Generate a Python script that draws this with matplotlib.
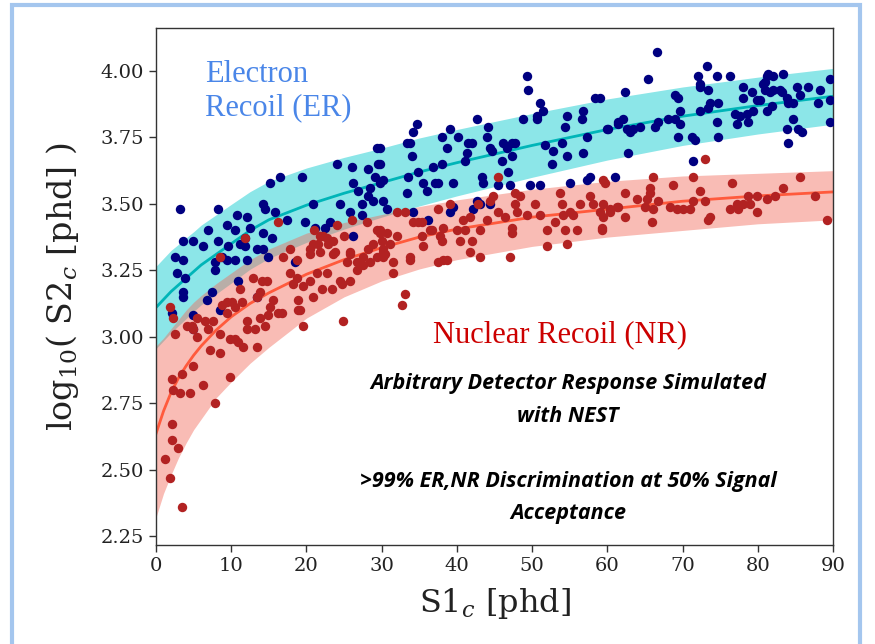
import matplotlib
matplotlib.use("Agg")
import matplotlib.pyplot as plt
from matplotlib.patches import Rectangle

# ---------------- data ----------------
band_x = [0, 1, 2, 3, 4, 5, 6, 8, 10, 12.5, 15, 20, 25, 30, 35, 40, 50, 60, 70, 80, 90]
er_center = [3.11, 3.14, 3.17, 3.195, 3.22, 3.245, 3.27, 3.31, 3.35, 3.40, 3.44, 3.495, 3.54, 3.58, 3.62, 3.655, 3.72, 3.78, 3.83, 3.87, 3.905]
er_low = [2.955, 2.985, 3.015, 3.042, 3.068, 3.095, 3.12, 3.161, 3.202, 3.254, 3.295, 3.355, 3.405, 3.45, 3.492, 3.53, 3.60, 3.665, 3.72, 3.763, 3.80]
er_high = [3.265, 3.295, 3.325, 3.348, 3.372, 3.395, 3.42, 3.459, 3.498, 3.546, 3.585, 3.635, 3.675, 3.71, 3.748, 3.78, 3.84, 3.895, 3.94, 3.977, 4.01]
nr_center = [2.635, 2.72, 2.79, 2.845, 2.89, 2.93, 2.965, 3.025, 3.075, 3.125, 3.165, 3.235, 3.29, 3.335, 3.375, 3.405, 3.45, 3.48, 3.51, 3.53, 3.545]
nr_low = [2.32, 2.41, 2.48, 2.545, 2.60, 2.65, 2.69, 2.77, 2.83, 2.90, 2.96, 3.07, 3.15, 3.21, 3.255, 3.29, 3.34, 3.375, 3.40, 3.425, 3.44]
nr_high = [2.965, 2.995, 3.03, 3.065, 3.10, 3.13, 3.155, 3.20, 3.24, 3.29, 3.33, 3.39, 3.43, 3.46, 3.49, 3.515, 3.555, 3.585, 3.605, 3.615, 3.625]

er_x = [3.2, 8.3, 3.6, 4.9, 6.3, 6.9, 8.3, 9.4, 9.6, 10.8, 10.5, 12.1, 12.5, 11.8, 11.2,
        14.2, 14.5, 15.2, 16.5, 19.4, 15.8, 17.4, 14.2, 15.4, 13.4, 14.2, 14.9, 11.8, 10.5, 12.1,
        2.5, 18.5, 19.8, 20.9, 21.1, 22.5, 23.1, 24.1, 26.1, 28.2, 29.4, 29.5,
        26.2, 26.9, 28.5, 29.1, 29.8, 28.2, 27.4, 28.8, 30.2, 30.7, 24.5, 25.8, 27.4, 26.2,
        3.6, 2.8, 3.9, 3.6, 3.6, 4.9, 7.4, 6.8, 8.5, 10.9, 13.4, 9.4, 7.8, 7.8, 8.8, 2.1, 4.9,
        49.3, 49.5, 34.7, 34.2, 33.4, 33.8, 34.0, 29.8, 29.8, 30.2,
        33.5, 33.4, 34.8, 35.5, 36.0, 36.8, 37.1, 37.5, 38.0, 38.0, 39.1, 38.7, 39.5, 40.1, 41.1, 41.3, 41.5, 42.0,
        42.7, 44.1, 44.0, 44.4, 44.7, 46.1, 46.7, 47.3, 47.7, 47.3, 46.0, 46.8, 43.3, 43.5, 45.5, 47.1,
        42.7, 43.1, 42.1, 44.4, 39.1, 39.5, 34.2, 36.2,
        48.8, 50.7, 51.1, 51.5, 50.7, 54.4, 54.6, 56.6, 56.8, 57.3, 56.8, 54.0, 54.6, 52.6, 51.7, 52.8,
        58.4, 60.1, 61.4, 49.7, 51.1, 55.1, 57.3, 57.7, 61.0,
        66.6, 65.4, 62.3, 59.0,
        60.0, 61.4, 62.1, 62.6, 63.4, 64.3, 63.0, 66.4, 66.8, 68.0, 69.0, 69.7, 69.4, 69.7, 69.0, 69.4,
        72.3, 73.4, 73.6, 74.7, 74.6, 74.7, 71.3, 71.7, 71.4, 72.3, 72.0, 72.3, 73.3, 73.4, 74.6, 76.3,
        77.2, 77.0, 77.6, 78.7, 78.6, 79.4, 79.2, 78.0, 78.0, 79.9, 80.3, 80.7, 80.9, 81.4, 82.0, 81.2,
        80.9, 81.6, 82.0, 82.9, 83.3, 83.2, 83.9, 84.0, 84.7, 85.2, 85.6, 86.7, 88.3, 88.0, 89.6, 89.6,
        89.6, 84.7, 83.9, 85.4, 85.9, 84.0, 81.2, 81.9, 62.7]
er_y = [3.48, 3.48, 3.36, 3.36, 3.34, 3.40, 3.36, 3.42, 3.34, 3.46, 3.40, 3.45, 3.41, 3.37, 3.35,
        3.50, 3.48, 3.58, 3.60, 3.60, 3.47, 3.44, 3.39, 3.37, 3.33, 3.33, 3.30, 3.34, 3.29, 3.29,
        3.30, 3.28, 3.43, 3.50, 3.41, 3.41, 3.43, 3.65, 3.64, 3.63, 3.71, 3.65,
        3.58, 3.55, 3.56, 3.60, 3.58, 3.53, 3.50, 3.51, 3.51, 3.48, 3.50, 3.47, 3.46, 3.38,
        3.29, 3.24, 3.22, 3.17, 3.15, 3.08, 3.17, 3.14, 3.10, 3.21, 3.15, 3.29, 3.28, 3.25, 3.30, 3.09, 3.03,
        3.98, 3.93, 3.80, 3.77, 3.73, 3.73, 3.68, 3.71, 3.65, 3.59,
        3.60, 3.54, 3.62, 3.58, 3.55, 3.64, 3.58, 3.58, 3.65, 3.75, 3.78, 3.71, 3.58, 3.75, 3.66, 3.69, 3.73, 3.73,
        3.82, 3.79, 3.75, 3.71, 3.70, 3.73, 3.71, 3.73, 3.73, 3.68, 3.66, 3.62, 3.60, 3.58, 3.57, 3.57,
        3.51, 3.50, 3.48, 3.50, 3.47, 3.49, 3.47, 3.44,
        3.82, 3.82, 3.88, 3.85, 3.83, 3.79, 3.83, 3.82, 3.85, 3.75, 3.69, 3.73, 3.68, 3.65, 3.72, 3.70,
        3.90, 3.78, 3.81, 3.57, 3.57, 3.58, 3.59, 3.60, 3.60,
        4.07, 3.97, 3.92, 3.90,
        3.78, 3.80, 3.82, 3.78, 3.78, 3.79, 3.77, 3.79, 3.81, 3.82, 3.82, 3.80, 3.75, 3.85, 3.91, 3.90,
        3.85, 3.86, 3.88, 3.88, 3.81, 3.75, 3.75, 3.74, 3.66, 3.95, 3.98, 3.94, 4.02, 3.93, 3.98, 3.98,
        3.80, 3.84, 3.83, 3.81, 3.84, 3.85, 3.92, 3.94, 3.90, 3.89, 3.89, 3.95, 3.96, 3.99, 3.98, 3.98,
        3.93, 3.92, 3.93, 3.93, 3.99, 3.92, 3.90, 3.88, 3.88, 3.94, 3.91, 3.94, 3.93, 3.88, 3.97, 3.89,
        3.81, 3.82, 3.78, 3.78, 3.77, 3.73, 3.85, 3.87, 3.69]

nr_x = [11.8, 1.9, 2.3, 2.5, 4.1, 4.8, 4.9, 5.5, 5.5, 6.5, 7.6, 6.9, 8.5, 7.2, 8.5, 9.8, 10.5, 10.9, 11.6,
        13.4, 12.1, 12.1, 13.2, 14.5, 13.8, 14.9, 16.2, 9.4, 10.1, 8.8, 10.5, 9.4, 11.4, 11.2, 12.9,
        14.1, 14.8, 13.8, 13.4, 15.2, 15.6, 16.8,
        4.9, 3.5, 2.1, 2.3, 3.2, 4.5, 6.2, 9.8, 7.8, 2.1, 2.1, 2.9, 1.2, 1.9, 3.5,
        16.9, 17.8, 18.7, 19.6, 18.2, 20.5, 21.4, 22.7, 18.9, 18.9, 20.9, 19.6, 22.1, 23.4, 24.7, 25.8,
        26.7, 27.5, 28.4, 29.4, 30.2, 24.9, 22.9, 23.8, 25.8, 25.4, 21.8, 20.5, 22.2, 20.9,
        16.2, 8.5, 17.8, 18.7, 20.5, 21.5, 23.5, 25.8, 27.5, 28.8, 29.8, 30.2, 26.7,
        21.0, 24.0, 26.0, 28.0, 25.0,
        21.8, 22.7, 23.5, 24.5, 28.2, 29.4, 30.0, 30.4, 31.5, 32.0, 33.8, 35.4, 35.5, 36.7, 37.8, 38.2, 19.1,
        45.5, 29.8, 30.7, 31.1, 31.5, 30.2, 32.0, 33.1, 34.2, 34.8, 35.4, 33.8, 36.4, 37.5, 38.2, 39.1,
        38.0, 38.7, 37.5, 40.0, 40.8, 41.1, 41.7, 42.0, 40.4, 42.8, 43.1, 44.0, 44.4, 44.8, 45.5, 46.4,
        47.3, 47.7, 47.7, 48.4, 48.0, 49.3, 50.4, 51.1, 52.0, 53.0, 53.7, 54.0, 54.1, 54.4, 55.0, 55.4,
        56.0, 56.4, 57.7, 58.1, 59.0, 59.3, 59.7, 60.4, 61.3, 47.1, 43.1, 52.0, 54.6, 47.3, 41.7,
        33.1, 32.7,
        59.4, 66.1, 65.7, 65.7, 65.3, 65.0, 66.1, 66.7, 68.7, 68.3, 69.3, 70.1, 71.0, 71.4, 71.4, 72.3,
        73.0, 73.4, 73.6, 76.6, 76.3, 77.2, 77.4, 78.0, 78.7, 79.0, 79.9, 79.9, 81.2, 82.3, 83.4, 85.6,
        87.6, 89.2, 65.9, 62.3, 62.3, 63.9, 61.4, 60.4, 59.4, 59.4, 59.3, 73.0]
nr_y = [3.37, 3.11, 3.07, 3.01, 3.04, 3.04, 3.03, 3.00, 3.07, 3.06, 3.06, 3.03, 3.01, 2.95, 2.94, 2.99, 2.99, 2.98, 2.96,
        2.96, 3.03, 3.06, 3.03, 3.04, 3.07, 3.08, 3.09, 3.13, 3.13, 3.12, 3.11, 3.09, 3.13, 3.18, 3.22,
        3.21, 3.21, 3.17, 3.15, 3.11, 3.14, 3.09,
        2.89, 2.86, 2.84, 2.80, 2.79, 2.79, 2.82, 2.85, 2.75, 2.67, 2.61, 2.58, 2.54, 2.47, 2.36,
        3.30, 3.24, 3.22, 3.19, 3.20, 3.21, 3.24, 3.24, 3.14, 3.10, 3.15, 3.04, 3.18, 3.18, 3.20, 3.21,
        3.25, 3.27, 3.28, 3.30, 3.32, 3.06, 3.35, 3.32, 3.32, 3.28, 3.32, 3.31, 3.38, 3.35,
        3.43, 3.30, 3.33, 3.29, 3.33, 3.35, 3.36, 3.31, 3.30, 3.35, 3.39, 3.33, 3.28,
        3.40, 3.42, 3.44, 3.43, 3.38,
        3.38, 3.37, 3.31, 3.21, 3.33, 3.40, 3.36, 3.31, 3.24, 3.38, 3.29, 3.43, 3.34, 3.40, 3.38, 3.29, 3.10,
        3.60, 3.40, 3.39, 3.35, 3.28, 3.30, 3.47, 3.47, 3.43, 3.43, 3.38, 3.30, 3.40, 3.48, 3.41, 3.50,
        3.36, 3.29, 3.28, 3.40, 3.44, 3.40, 3.45, 3.36, 3.36, 3.50, 3.40, 3.44, 3.51, 3.53, 3.47, 3.45,
        3.41, 3.54, 3.50, 3.53, 3.47, 3.46, 3.50, 3.46, 3.40, 3.43, 3.54, 3.50, 3.46, 3.40, 3.47, 3.46,
        3.40, 3.50, 3.53, 3.50, 3.47, 3.41, 3.58, 3.48, 3.49, 3.30, 3.30, 3.34, 3.35, 3.39, 3.32,
        3.16, 3.12,
        3.59, 3.60, 3.56, 3.54, 3.52, 3.49, 3.48, 3.51, 3.57, 3.49, 3.48, 3.48, 3.48, 3.51, 3.60, 3.55,
        3.51, 3.44, 3.45, 3.58, 3.48, 3.50, 3.48, 3.50, 3.53, 3.50, 3.53, 3.47, 3.52, 3.53, 3.56, 3.60,
        3.53, 3.44, 3.43, 3.45, 3.54, 3.52, 3.49, 3.47, 3.50, 3.45, 3.40, 3.67]

x_ticks = [0, 10, 20, 30, 40, 50, 60, 70, 80, 90]
y_ticks = [2.25, 2.50, 2.75, 3.00, 3.25, 3.50, 3.75, 4.00]

# ---------------- figure ----------------
plt.rcParams['mathtext.fontset'] = 'dejavuserif'
fig = plt.figure(figsize=(8.75, 6.44), dpi=100)
ax = fig.add_axes([156/875, 1-545/644, (833-156)/875, (545-28)/644])

ax.fill_between(band_x, er_low, er_high, color='#00c8cc', alpha=0.45, lw=0, zorder=1)
ax.fill_between(band_x, nr_low, nr_high, color='#f26b5b', alpha=0.45, lw=0, zorder=1)
ax.plot(band_x, er_center, color='#00b5b8', lw=2, zorder=2)
ax.plot(band_x, nr_center, color='#ff5a3c', lw=2, zorder=2)

ax.scatter(er_x, er_y, s=46, color='#000080', zorder=3, lw=0)
ax.scatter(nr_x, nr_y, s=46, color='#b22222', zorder=3, lw=0)

ax.set_xlim(0, 90)
ax.set_ylim(2.216, 4.162)
ax.set_xticks(x_ticks)
ax.set_yticks(y_ticks)
ax.set_xticklabels([str(v) for v in x_ticks], family='DejaVu Serif', fontsize=14)
ax.set_yticklabels([f"{v:.2f}" for v in y_ticks], family='DejaVu Serif', fontsize=14)
ax.tick_params(direction='out', length=5, width=1, color='#333333', labelcolor='#222222')
for s in ax.spines.values():
    s.set_color('#333333')
    s.set_linewidth(1)

ax.set_xlabel(r'S1$_c$ [phd]', family='DejaVu Serif', fontsize=23, color='#222222', labelpad=8)
ax.set_ylabel(r'log$_{10}$( S2$_c$ [phd] )', family='DejaVu Serif', fontsize=24, color='#222222', labelpad=14)

# annotations
fig.text(205/875, 1-74/644, 'Electron', family='Liberation Serif', fontsize=22, color='#4a86e8', va='center')
fig.text(205/875, 1-108/644, 'Recoil (ER)', family='Liberation Serif', fontsize=22, color='#4a86e8', va='center')
fig.text(433/875, 1-335/644, 'Nuclear Recoil (NR)', family='Liberation Serif', fontsize=22, color='#cc0000', va='center')
for txt, yy in [('Arbitrary Detector Response Simulated', 384), ('with NEST', 416),
                ('>99% ER,NR Discrimination at 50% Signal', 482), ('Acceptance', 514)]:
    fig.text(568/875, 1-yy/644, txt, family='Open Sans', fontsize=15.5, fontweight='bold',
             style='italic', color='black', ha='center', va='center')

# light blue frame
fig.patches.append(Rectangle((12/875, -0.05), (860-12)/875, 1.05 - 5/644, transform=fig.transFigure,
                             fill=False, edgecolor='#a4c6ee', lw=3, zorder=0))

fig.savefig('out.png', dpi=100)
